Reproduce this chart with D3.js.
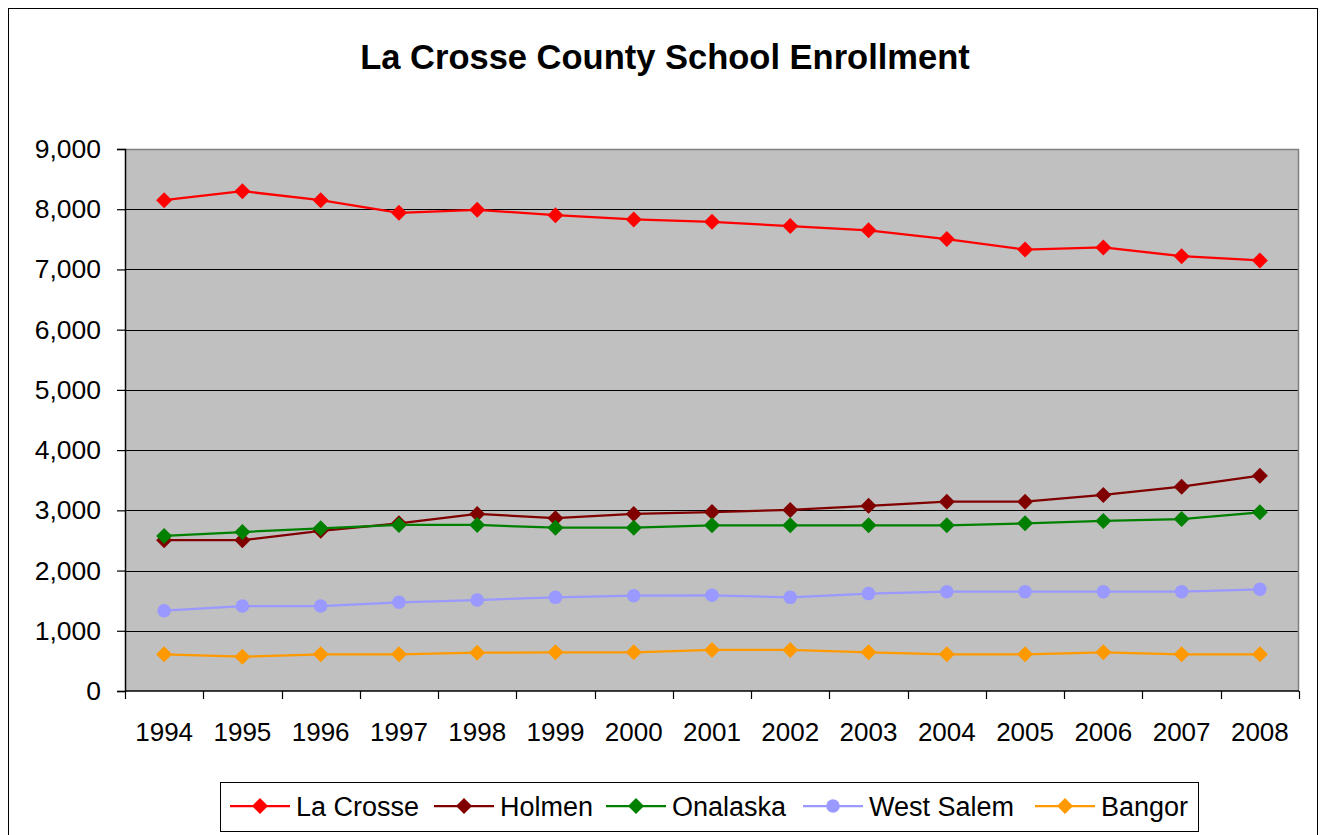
<!DOCTYPE html>
<html>
<head>
<meta charset="utf-8">
<script src="https://cdn.jsdelivr.net/npm/d3@7"></script>
<style>
  html, body { margin: 0; padding: 0; background: #ffffff; }
  svg { display: block; font-family: "Liberation Sans", Arial, sans-serif; }
</style>
</head>
<body>
<svg id="chart" width="1322" height="835"></svg>
<script>
// ---- data ----
const years = ["1994","1995","1996","1997","1998","1999","2000","2001","2002","2003","2004","2005","2006","2007","2008"];
const laCrosse  = [8150, 8300, 8150, 7940, 7990, 7900, 7830, 7790, 7720, 7650, 7505, 7330, 7365, 7220, 7150];
const holmen    = [2505, 2505, 2660, 2785, 2940, 2870, 2940, 2972, 3006, 3075, 3143, 3143, 3255, 3393, 3576];
const onalaska  = [2574, 2640, 2701, 2757, 2757, 2712, 2712, 2751, 2751, 2751, 2751, 2784, 2823, 2856, 2967];
const westSalem = [1333, 1411, 1411, 1473, 1511, 1555, 1583, 1589, 1555, 1617, 1649, 1650, 1650, 1650, 1689];
const bangor    = [609, 570, 609, 609, 637, 642, 642, 681, 681, 642, 609, 609, 642, 609, 609];
const seriesNames = ["La Crosse", "Holmen", "Onalaska", "West Salem", "Bangor"];
const yTicks = [0, 1000, 2000, 3000, 4000, 5000, 6000, 7000, 8000, 9000];
const titleText = "La Crosse County School Enrollment";

// ---- styling ----
const seriesValues = [laCrosse, holmen, onalaska, westSalem, bangor];
const colors = ["#FF0000", "#800000", "#008000", "#9999FF", "#FF9900"];
const shapes = ["diamond", "diamond", "diamond", "circle", "diamond"];

const svg = d3.select("#chart");
const plot = { left: 125, right: 1299, top: 149, bottom: 691 };

// outer border
svg.append("rect").attr("x", 8.5).attr("y", 8.5).attr("width", 1309).attr("height", 832)
  .attr("fill", "#fff").attr("stroke", "#000").attr("stroke-width", 1);

// title
svg.append("text").attr("x", 665).attr("y", 69).attr("text-anchor", "middle")
  .attr("font-size", 34.5).attr("font-weight", "bold").attr("fill", "#000").text(titleText);

const x = d3.scaleBand().domain(years).range([plot.left, plot.right]).paddingInner(0).paddingOuter(0);
const y = d3.scaleLinear().domain([0, 9000]).range([plot.bottom, plot.top]);
const cx = d => x(d) + x.bandwidth() / 2;

// plot background
svg.append("rect").attr("x", plot.left).attr("y", plot.top)
  .attr("width", plot.right - plot.left).attr("height", plot.bottom - plot.top)
  .attr("fill", "#C0C0C0");

// gridlines
svg.append("g").selectAll("line").data(yTicks.filter(v => v > 0 && v < 9000)).join("line")
  .attr("x1", plot.left).attr("x2", plot.right)
  .attr("y1", d => Math.round(y(d)) + 0.5).attr("y2", d => Math.round(y(d)) + 0.5)
  .attr("stroke", "#000").attr("stroke-width", 1);

// plot border top/right
svg.append("path")
  .attr("d", `M${plot.left},${plot.top + 0.5}H${plot.right - 0.5}V${plot.bottom}`)
  .attr("fill", "none").attr("stroke", "#808080").attr("stroke-width", 1.5);

// y axis
const yAxis = svg.append("g").attr("transform", `translate(${plot.left},0)`)
  .call(d3.axisLeft(y).tickValues(yTicks).tickFormat(d3.format(",")).tickSize(8).tickPadding(16));
yAxis.select(".domain").attr("stroke", "#000").attr("stroke-width", 1.5);
yAxis.selectAll(".tick line").attr("stroke", "#000").attr("stroke-width", 1.2);
yAxis.selectAll("text").attr("font-size", 26.5).attr("fill", "#000").attr("font-family", "Liberation Sans, Arial, sans-serif");

// x axis (labels at band centers)
const xAxis = svg.append("g").attr("transform", `translate(0,${plot.bottom})`)
  .call(d3.axisBottom(x).tickSize(0).tickPadding(32));
xAxis.select(".domain").remove();
xAxis.selectAll("text").attr("font-size", 26).attr("fill", "#000").attr("font-family", "Liberation Sans, Arial, sans-serif");
// x axis line and boundary ticks
const boundaries = years.map(d => x(d)).concat([plot.right]);
svg.append("line").attr("x1", plot.left).attr("x2", plot.right)
  .attr("y1", plot.bottom).attr("y2", plot.bottom).attr("stroke", "#000").attr("stroke-width", 1.5);
svg.append("g").selectAll("line").data(boundaries).join("line")
  .attr("x1", d => Math.round(d) + 0.5).attr("x2", d => Math.round(d) + 0.5)
  .attr("y1", plot.bottom).attr("y2", plot.bottom + 8)
  .attr("stroke", "#000").attr("stroke-width", 1.2);

// markers
const diamondPath = "M0,-8L8,0L0,8L-8,0Z";
function drawMarker(g, shape, color) {
  if (shape === "circle") {
    g.append("circle").attr("r", 6.75).attr("fill", color);
  } else {
    g.append("path").attr("d", diamondPath).attr("fill", color);
  }
}

// series
const line = d3.line().x((d, i) => cx(years[i])).y(d => y(d));
seriesValues.forEach((vals, s) => {
  const g = svg.append("g");
  g.append("path").datum(vals).attr("d", line)
    .attr("fill", "none").attr("stroke", colors[s]).attr("stroke-width", 2.25);
  g.selectAll("g.pt").data(vals).join("g").attr("class", "pt")
    .attr("transform", (d, i) => `translate(${cx(years[i])},${y(d)})`)
    .each(function () { drawMarker(d3.select(this), shapes[s], colors[s]); });
});

// legend
const legend = svg.append("g");
legend.append("rect").attr("x", 220.5).attr("y", 782.5).attr("width", 978).attr("height", 49)
  .attr("fill", "#fff").attr("stroke", "#000").attr("stroke-width", 1);
const legendStarts = [230, 434, 606, 803, 1035];
const legendY = 806;
seriesNames.forEach((name, s) => {
  const lx = legendStarts[s];
  const g = legend.append("g");
  g.append("line").attr("x1", lx).attr("x2", lx + 60).attr("y1", legendY).attr("y2", legendY)
    .attr("stroke", colors[s]).attr("stroke-width", 2.25);
  const m = g.append("g").attr("transform", `translate(${lx + 30},${legendY})`);
  drawMarker(m, shapes[s], colors[s]);
  g.append("text").attr("x", lx + 66).attr("y", legendY + 9.5)
    .attr("font-size", 27).attr("fill", "#000").text(name);
});
</script>
</body>
</html>
